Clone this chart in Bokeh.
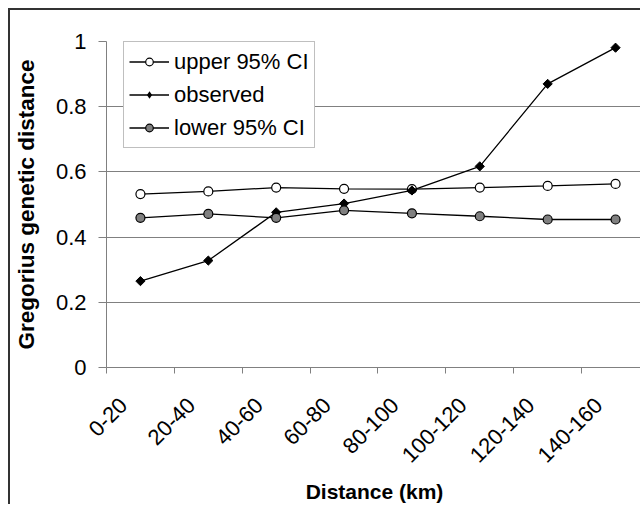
import math
from bokeh.plotting import figure
from bokeh.models import Range1d, FixedTicker, Legend, LegendItem
from bokeh.embed import file_html
from bokeh.resources import INLINE

categories = ["0-20", "20-40", "40-60", "60-80", "80-100", "100-120", "120-140", "140-160"]
upper = [0.532, 0.540, 0.552, 0.548, 0.547, 0.552, 0.557, 0.563]
observed = [0.265, 0.328, 0.476, 0.503, 0.543, 0.617, 0.870, 0.981]
lower = [0.459, 0.471, 0.459, 0.482, 0.473, 0.464, 0.454, 0.454]
y_ticks = [0, 0.2, 0.4, 0.6, 0.8, 1.0]
y_tick_labels = ["0", "0.2", "0.4", "0.6", "0.8", "1"]

xs = [i + 0.5 for i in range(len(categories))]
bounds = list(range(len(categories) + 1))
# rotated category labels sit a little left of the category centre, as in the original
LABEL_SHIFT = 0.25
label_pos = [x - LABEL_SHIFT for x in xs]

FONT = "Liberation Sans"
GRAY = "#808080"

W, H = 632, 496
ML, MT, MB = 95, 31, 139
frame_w = W - ML
frame_h = H - MT - MB

p = figure(width=W, height=H, output_backend="svg", toolbar_location=None,
           x_range=Range1d(0, frame_w / 68.0), y_range=Range1d(0, 1),
           min_border_left=ML, min_border_right=0, min_border_top=MT, min_border_bottom=MB,
           background_fill_color="white", border_fill_color="white",
           styles={"margin-left": "8px", "margin-top": "8px",
                   "border-left": "2px solid #333333", "border-top": "2px solid #333333"})
p.outline_line_color = None
p.xgrid.grid_line_color = None
p.ygrid.ticker = FixedTicker(ticks=y_ticks, minor_ticks=[])
p.ygrid.grid_line_color = GRAY
p.ygrid.grid_line_width = 1

# y axis
ya = p.yaxis[0]
ya.ticker = FixedTicker(ticks=y_ticks, minor_ticks=[])
ya.major_label_overrides = {t: l for t, l in zip(y_ticks, y_tick_labels)}
ya.axis_line_color = GRAY
ya.major_tick_line_color = GRAY
ya.major_tick_out = 8
ya.major_tick_in = 0
ya.minor_tick_line_color = None
ya.major_label_standoff = 12
ya.major_label_text_font = FONT
ya.major_label_text_font_size = "22px"
ya.major_label_text_color = "black"
ya.axis_label = "Gregorius genetic distance"
ya.axis_label_text_font = FONT
ya.axis_label_text_font_style = "bold"
ya.axis_label_text_font_size = "22.5px"
ya.axis_label_text_color = "black"
ya.axis_label_standoff = 14

# x axis
xa = p.xaxis[0]
xa.ticker = FixedTicker(ticks=label_pos, minor_ticks=bounds)
xa.major_label_overrides = {x: c for x, c in zip(label_pos, categories)}
xa.axis_line_color = GRAY
xa.major_tick_out = 0
xa.major_tick_in = 0
xa.minor_tick_line_color = GRAY
xa.minor_tick_out = 6
xa.minor_tick_in = 0
xa.major_label_orientation = math.pi / 4
xa.major_label_standoff = 28
xa.major_label_text_font = FONT
xa.major_label_text_font_size = "22px"
xa.major_label_text_color = "black"
xa.axis_label = "Distance (km)"
xa.axis_label_text_font = FONT
xa.axis_label_text_font_style = "bold"
xa.axis_label_text_font_size = "21px"
xa.axis_label_text_color = "black"
xa.axis_label_standoff = 8

# series
LW = 1.3
l_up = p.line(xs, upper, line_color="black", line_width=LW)
m_up = p.scatter(xs, upper, marker="circle", size=9, fill_color="white", line_color="black", line_width=1.2)
l_ob = p.line(xs, observed, line_color="black", line_width=LW)
m_ob = p.scatter(xs, observed, marker="square", angle=math.pi / 4, size=6.5, fill_color="black", line_color="black")
l_lo = p.line(xs, lower, line_color="black", line_width=LW)
m_lo = p.scatter(xs, lower, marker="circle", size=9, fill_color=GRAY, line_color="black", line_width=1.2)
# legend swatch for the diamond (the legend ignores marker angles); zero size in the plot
leg_ob = p.scatter(xs, observed, marker="diamond", size=0, fill_color="black", line_color="black", line_width=0)

LEG_H = 2 * 5 + 3 * 29 + 2 * 4
legend = Legend(items=[
    LegendItem(label="upper 95% CI", renderers=[l_up, m_up]),
    LegendItem(label="observed", renderers=[l_ob, leg_ob]),
    LegendItem(label="lower 95% CI", renderers=[l_lo, m_lo]),
], location=(17, frame_h - 2 - LEG_H))
legend.border_line_color = GRAY
legend.border_line_width = 1
legend.background_fill_color = "white"
legend.background_fill_alpha = 1
legend.label_text_font = FONT
legend.label_text_font_size = "22px"
legend.label_text_color = "black"
legend.padding = 5
legend.spacing = 4
legend.label_height = 29
legend.glyph_height = 19
legend.glyph_width = 40
legend.label_standoff = 5
legend.margin = 0
p.add_layout(legend, "center")

open("out.html", "w").write(file_html(p, INLINE))
